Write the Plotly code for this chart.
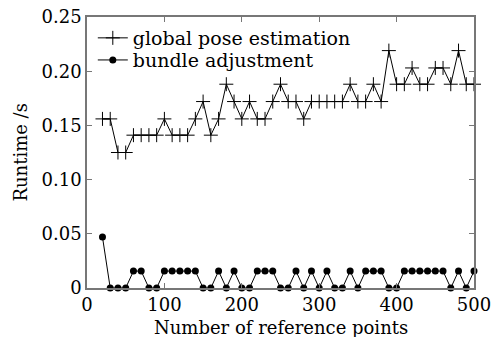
import plotly.graph_objects as go

ref_points = list(range(20, 501, 10))

global_pose = [0.156, 0.156, 0.125, 0.125, 0.141, 0.141, 0.141, 0.141, 0.156, 0.141,
               0.141, 0.141, 0.156, 0.172, 0.141, 0.156, 0.188, 0.172, 0.156, 0.172,
               0.156, 0.156, 0.172, 0.188, 0.172, 0.172, 0.156, 0.172, 0.172, 0.172,
               0.172, 0.172, 0.188, 0.172, 0.172, 0.188, 0.172, 0.219, 0.188, 0.188,
               0.203, 0.188, 0.188, 0.203, 0.203, 0.188, 0.219, 0.188, 0.188]

h = 0.0156
bundle_adj = [0.047, 0, 0, 0, h, h, 0, 0, h, h,
              h, h, h, 0, 0, h, 0, h, 0, 0,
              h, h, h, 0, 0, h, 0, h, 0, h,
              0, 0, h, 0, h, h, h, 0, 0, h,
              h, h, h, h, h, 0, h, 0, h]

x_ticks = [0, 100, 200, 300, 400, 500]
y_ticks = [0, 0.05, 0.10, 0.15, 0.20, 0.25]
y_tick_labels = ["0", "0.05", "0.10", "0.15", "0.20", "0.25"]

FONT = "DejaVu Serif"

fig = go.Figure()
fig.add_trace(go.Scatter(
    x=ref_points, y=global_pose, mode="lines+markers", name="global pose estimation",
    line=dict(color="black", width=1), cliponaxis=False, legend="legend",
    marker=dict(symbol="cross-thin", size=10, line=dict(color="black", width=1), color="black"),
))
fig.add_trace(go.Scatter(
    x=ref_points, y=bundle_adj, mode="lines+markers", name="bundle adjustment",
    line=dict(color="black", width=1), cliponaxis=False, legend="legend2",
    marker=dict(symbol="circle", size=7, color="black"),
))

axis_common = dict(
    showline=True, linecolor="#777", linewidth=1.5, mirror="ticks",
    ticks="inside", ticklen=5, tickcolor="#777", showgrid=False, zeroline=False,
    tickfont=dict(family=FONT, size=18, color="black"), automargin=False,
    ticklabeloverflow="allow",
)

legend_common = dict(xanchor="left", yanchor="middle", bgcolor="rgba(0,0,0,0)",
                     font=dict(family=FONT, size=19, color="black"), itemwidth=30)

fig.update_layout(
    width=494, height=337,
    margin=dict(l=87, r=20, t=17, b=49),
    paper_bgcolor="white", plot_bgcolor="white",
    font=dict(family=FONT, size=18, color="black"),
    xaxis=dict(range=[0, 500], tickvals=x_ticks, **axis_common),
    yaxis=dict(range=[0, 0.25], tickvals=y_ticks, ticktext=y_tick_labels, **axis_common),
    legend=dict(x=0.015, y=0.9225, **legend_common),
    legend2=dict(x=0.015, y=0.841, **legend_common),
    showlegend=True,
    annotations=[
        dict(text="Number of reference points", xref="paper", yref="paper",
             x=0.5, y=-0.144, xanchor="center", yanchor="middle", showarrow=False,
             font=dict(family=FONT, size=18, color="black")),
        dict(text="Runtime /s", xref="paper", yref="paper",
             x=-0.173, y=0.5, xanchor="center", yanchor="middle", showarrow=False,
             textangle=-90, font=dict(family=FONT, size=18, color="black")),
    ],
)

# remove the default 8px page margin so the 494x337 figure fills the window exactly
fig.write_html("out.html", config={"displayModeBar": False},
               post_script="document.body.style.margin='0';")
